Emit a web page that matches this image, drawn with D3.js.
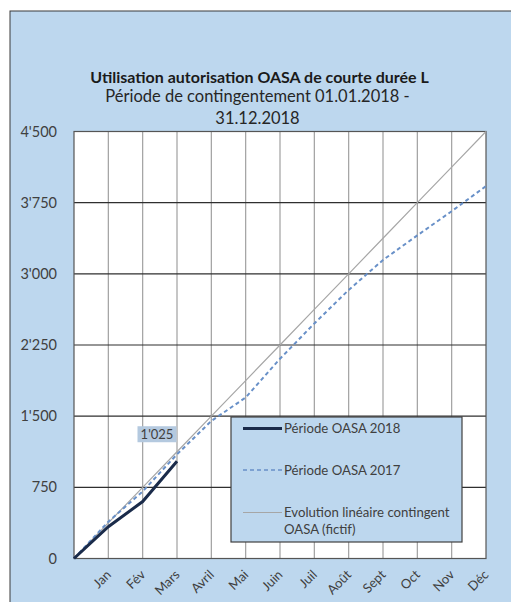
<!DOCTYPE html>
<html><head><meta charset="utf-8">
<script src="https://cdn.jsdelivr.net/npm/d3@7"></script>
<style>html,body{margin:0;padding:0;background:#fff;}svg{display:block;font-family:Lato,"Open Sans",sans-serif;}</style>
</head><body><svg id="c" width="511" height="602"></svg>
<script>
const months = ["", "Jan","Fév","Mars","Avril","Mai","Juin","Juil","Août","Sept","Oct","Nov","Déc"];
const yTicks = [0, 750, 1500, 2250, 3000, 3750, 4500];
const values2018 = [0, 335, 600, 1025];
const values2017 = [0, 388, 707, 1098, 1449, 1697, 2105, 2477, 2830, 3146, 3405, 3660, 3925];
const valuesLinear = [0, 375, 750, 1125, 1500, 1875, 2250, 2625, 3000, 3375, 3750, 4125, 4500];
const seriesNames = ["Période OASA 2018", "Période OASA 2017", "Evolution linéaire contingent", "OASA (fictif)"];
const titleText = "Utilisation autorisation OASA de courte durée L";
const subLines = ["Période de contingentement 01.01.2018 -", "31.12.2018"];
const dataLabel = "1'025";

const svg = d3.select("#c");
const fmt = v => d3.format(",")(v).replace(/,/g, "'");

svg.append("rect").attr("x",10).attr("y",11).attr("width",520).attr("height",620)
  .attr("fill","#bdd7ee").attr("stroke","#3a3a3a").attr("stroke-width",1);

const L = 74, R = 486, T = 131.5, B = 558.5;
const x = d3.scaleLinear().domain([0, 12]).range([L, R]);
const y = d3.scaleLinear().domain([0, 4500]).range([B, T]);

svg.append("rect").attr("x",L).attr("y",T).attr("width",R-L).attr("height",B-T).attr("fill","#fff");

svg.append("g").selectAll("line").data(d3.range(1,12)).join("line")
  .attr("x1",d=>x(d)).attr("x2",d=>x(d)).attr("y1",T).attr("y2",B)
  .attr("stroke","#a0a0a0").attr("stroke-width",1.2);
svg.append("g").selectAll("line").data(yTicks.slice(1,-1)).join("line")
  .attr("x1",L).attr("x2",R).attr("y1",d=>y(d)).attr("y2",d=>y(d))
  .attr("stroke","#2f2f2f").attr("stroke-width",1.2);
svg.append("rect").attr("x",L).attr("y",T).attr("width",R-L).attr("height",B-T)
  .attr("fill","none").attr("stroke","#555").attr("stroke-width",1.2);

const yAxis = d3.axisLeft(y).tickValues(yTicks).tickFormat(fmt).tickSize(0).tickPadding(17);
const ga = svg.append("g").attr("transform",`translate(${L},0)`).call(yAxis);
ga.select(".domain").remove();
ga.selectAll("text").attr("font-size",14.5).attr("fill","#404040").attr("font-family","Lato,sans-serif");

const xAxis = d3.axisBottom(x).tickValues(d3.range(1,13)).tickFormat(i=>months[i]).tickSize(0);
const gx = svg.append("g").attr("transform",`translate(0,${B})`).call(xAxis);
gx.select(".domain").remove();
gx.selectAll("text").attr("font-size",13).attr("fill","#404040").attr("font-family","Lato,sans-serif")
  .attr("text-anchor","end").attr("dy",null).attr("y",0)
  .attr("transform","translate(3,17) rotate(-45)");

const line = d3.line().x((d,i)=>x(i)).y(d=>y(d));
svg.append("path").datum(valuesLinear).attr("d",line).attr("fill","none")
  .attr("stroke","#a6a6a6").attr("stroke-width",1.2);
svg.append("path").datum(values2017).attr("d",line).attr("fill","none")
  .attr("stroke","#6890c8").attr("stroke-width",2).attr("stroke-dasharray","4,3");
svg.append("path").datum(values2018).attr("d",line).attr("fill","none")
  .attr("stroke","#1a2b4a").attr("stroke-width",3);

const lx = x(values2018.length-1) - 20, ly = y(values2018[values2018.length-1]) - 27;
svg.append("rect").attr("x",lx-19.5).attr("y",ly-8).attr("width",39).attr("height",16).attr("fill","#b4c9df");
svg.append("text").attr("x",lx).attr("y",ly+5).attr("text-anchor","middle")
  .attr("font-size",13).attr("fill","#404040").text(dataLabel);

const lg = svg.append("g");
lg.append("rect").attr("x",231).attr("y",417).attr("width",231).attr("height",125)
  .attr("fill","#bdd7ee").attr("stroke","#404040").attr("stroke-width",1.2);
const legItems = [
  {y:428.5, color:"#1a2b4a", w:3, dash:null, lines:[seriesNames[0]]},
  {y:470, color:"#6890c8", w:1.5, dash:"4,3", lines:[seriesNames[1]]},
  {y:512.5, color:"#a6a6a6", w:1.2, dash:null, lines:[seriesNames[2], seriesNames[3]]}
];
legItems.forEach(it=>{
  lg.append("line").attr("x1",243).attr("x2",282).attr("y1",it.y).attr("y2",it.y)
    .attr("stroke",it.color).attr("stroke-width",it.w).attr("stroke-dasharray",it.dash);
  it.lines.forEach((t,k)=>{
    lg.append("text").attr("x",284).attr("y",it.y+4.5+k*16.5).attr("font-size",13.2)
      .attr("fill","#404040").text(t);
  });
});

svg.append("text").attr("x",259.5).attr("y",82.5).attr("text-anchor","middle")
  .attr("font-size",16).attr("font-weight","bold").attr("fill","#1a1a1a").text(titleText);
subLines.forEach((t,k)=>{
  svg.append("text").attr("x",257.5).attr("y",101.5+k*22).attr("text-anchor","middle")
    .attr("font-size",16.5).attr("fill","#262626").text(t);
});
</script></body></html>
